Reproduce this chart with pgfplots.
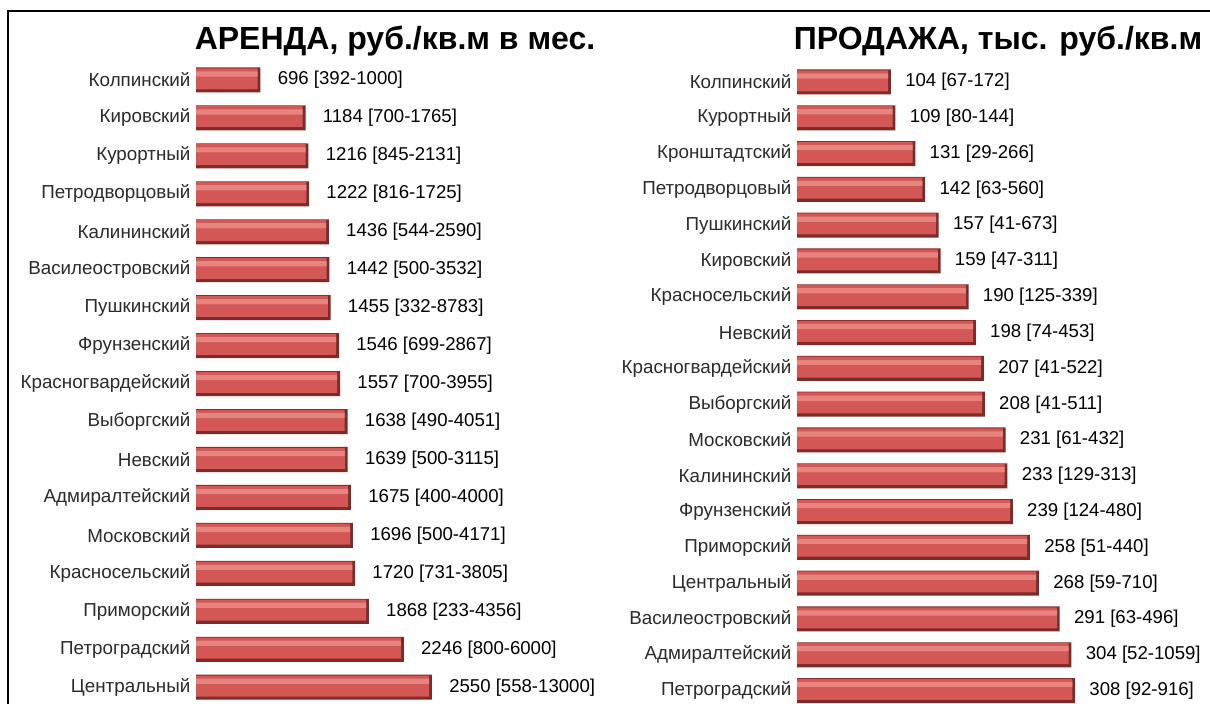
\documentclass[border=0pt]{standalone}
\usepackage{pgfplots}
\pgfplotsset{compat=1.18}
\usepackage{pgfplotstable}
\usepackage{fontspec}
\setmainfont{Liberation Sans}
\definecolor{barHi}{HTML}{E8847F}
\definecolor{barMid}{HTML}{D35755}
\definecolor{barBase}{HTML}{7E2A28}
\definecolor{lbl}{HTML}{2A2A2A}

\pgfplotstableread[col sep=comma]{
name,val,lab
Колпинский,696,696 [392-1000]
Кировский,1184,1184 [700-1765]
Курортный,1216,1216 [845-2131]
Петродворцовый,1222,1222 [816-1725]
Калининский,1436,1436 [544-2590]
Василеостровский,1442,1442 [500-3532]
Пушкинский,1455,1455 [332-8783]
Фрунзенский,1546,1546 [699-2867]
Красногвардейский,1557,1557 [700-3955]
Выборгский,1638,1638 [490-4051]
Невский,1639,1639 [500-3115]
Адмиралтейский,1675,1675 [400-4000]
Московский,1696,1696 [500-4171]
Красносельский,1720,1720 [731-3805]
Приморский,1868,1868 [233-4356]
Петроградский,2246,2246 [800-6000]
Центральный,2550,2550 [558-13000]
}\tabL

\pgfplotstableread[col sep=comma]{
name,val,lab
Колпинский,104,104 [67-172]
Курортный,109,109 [80-144]
Кронштадтский,131,131 [29-266]
Петродворцовый,142,142 [63-560]
Пушкинский,157,157 [41-673]
Кировский,159,159 [47-311]
Красносельский,190,190 [125-339]
Невский,198,198 [74-453]
Красногвардейский,207,207 [41-522]
Выборгский,208,208 [41-511]
Московский,231,231 [61-432]
Калининский,233,233 [129-313]
Фрунзенский,239,239 [124-480]
Приморский,258,258 [51-440]
Центральный,268,268 [59-710]
Василеостровский,291,291 [63-496]
Адмиралтейский,304,304 [52-1059]
Петроградский,308,308 [92-916]
}\tabR

\pgfplotsset{
  barpanel/.style={
    scale only axis,
    xbar=0pt, bar width=12.5pt,
    y dir=reverse,
    xmin=0,
    axis lines*=left,
    axis line style={draw=none},
    major tick length=0pt,
    xtick=\empty,
    clip=false,
    yticklabel style={font=\fontsize{9.4}{11}\selectfont, text=lbl, inner sep=0pt, xshift=-2.6pt},
    point meta=explicit symbolic,
  },
  labelled/.style={nodes near coords,
    every node near coord/.append style={font=\fontsize{9.3}{11}\selectfont, text=black, anchor=west, inner sep=0pt, xshift=#1}},
}

\begin{document}
\begin{tikzpicture}
\useasboundingbox (0,0) rectangle (605pt,352pt);
% frame
\draw[line width=1.2pt] (4pt,0pt) -- (4pt,346.5pt) -- (605pt,346.5pt);
% titles
\node[anchor=base, font=\fontsize{16}{18}\selectfont\bfseries] at (197.5pt,327pt) {АРЕНДА, руб./кв.м в мес.};
\node[anchor=base, font=\fontsize{16}{18}\selectfont\bfseries] at (499pt,327pt) {ПРОДАЖА, тыс. руб./кв.м};

\begin{axis}[barpanel,
  at={(98pt,321.5pt)}, anchor=north west,
  width=138.75pt, height=322.6pt,
  xmax=3000, ymin=-0.5, ymax=16.5,
  ytick={0,...,16},
  yticklabels from table={\tabL}{name},
]
\addplot[fill=barBase, draw=none, bar shift=0pt, labelled=8.5pt] table[x=val, y expr=\coordindex, meta=lab] {\tabL};
\addplot[fill=barMid, draw=none, bar width=10.5pt, bar shift=0.6pt] table[x expr=\thisrow{val}-30, y expr=\coordindex] {\tabL};
\addplot[fill=barHi, draw=none, bar width=2.6pt, bar shift=3pt] table[x expr=\thisrow{val}-30, y expr=\coordindex] {\tabL};
\end{axis}

\begin{axis}[barpanel,
  at={(398.5pt,319.95pt)}, anchor=north west,
  width=162.5pt, height=322.2pt,
  xmax=360, ymin=-0.5, ymax=17.5,
  ytick={0,...,17},
  yticklabels from table={\tabR}{name},
]
\addplot[fill=barBase, draw=none, bar shift=0pt, labelled=7pt] table[x=val, y expr=\coordindex, meta=lab] {\tabR};
\addplot[fill=barMid, draw=none, bar width=10.5pt, bar shift=0.6pt] table[x expr=\thisrow{val}-3, y expr=\coordindex] {\tabR};
\addplot[fill=barHi, draw=none, bar width=2.6pt, bar shift=3pt] table[x expr=\thisrow{val}-3, y expr=\coordindex] {\tabR};
\end{axis}
\end{tikzpicture}
\end{document}
